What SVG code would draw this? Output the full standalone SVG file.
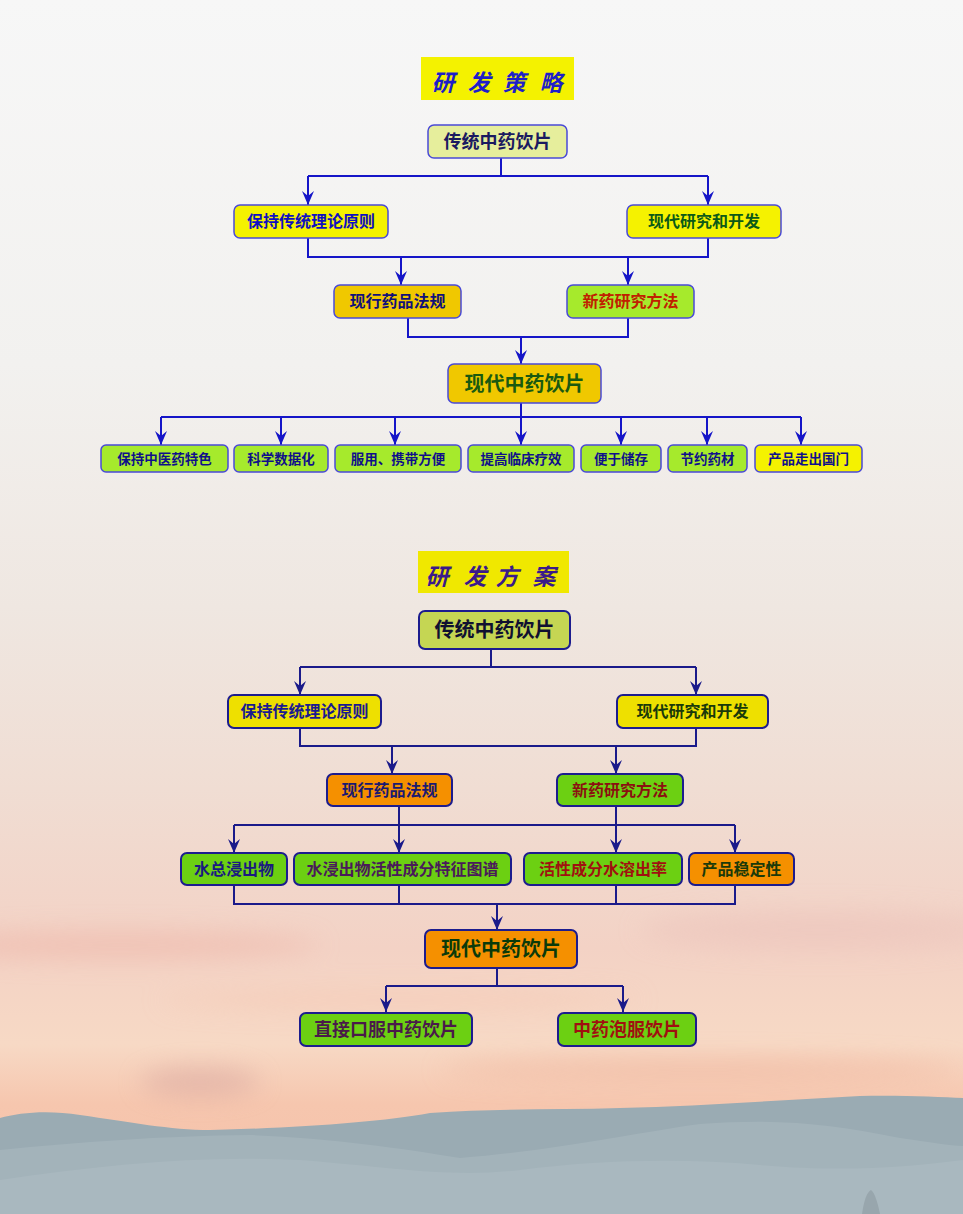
<svg xmlns="http://www.w3.org/2000/svg" width="963" height="1214" viewBox="0 0 963 1214">
<defs>
<linearGradient id="sky" x1="0" y1="0" x2="0" y2="1">
<stop offset="0" stop-color="#f7f7f7"/>
<stop offset="0.3" stop-color="#f2f1ef"/>
<stop offset="0.5" stop-color="#efe7e1"/>
<stop offset="0.65" stop-color="#f0ddd3"/>
<stop offset="0.78" stop-color="#f3d2c5"/>
<stop offset="0.86" stop-color="#f7d9c5"/>
<stop offset="0.91" stop-color="#f6c6ae"/>
<stop offset="1" stop-color="#f4c0a8"/>
</linearGradient>
<filter id="blur" x="-50%" y="-50%" width="200%" height="200%"><feGaussianBlur stdDeviation="12"/></filter>
<marker id="a1" viewBox="0 -7 14 14" refX="14" refY="0" markerWidth="14" markerHeight="14" orient="auto" markerUnits="userSpaceOnUse">
<path d="M0,-6 L14,0 L0,6 L5,0 Z" fill="#1515c8"/>
</marker>
<marker id="a2" viewBox="0 -7 14 14" refX="14" refY="0" markerWidth="14" markerHeight="14" orient="auto" markerUnits="userSpaceOnUse">
<path d="M0,-6 L14,0 L0,6 L5,0 Z" fill="#1a1a8a"/>
</marker>
</defs>
<style>
.t{font-family:"Noto Sans CJK SC","Noto Sans CJK JP",sans-serif;font-weight:bold;text-anchor:middle}
.b1{stroke:#4a4ad6;stroke-width:1.5}
.b2{stroke:#1c1c8e;stroke-width:2}
.c1{fill:none;stroke:#1515c8;stroke-width:2}
.c2{fill:none;stroke:#1a1a8a;stroke-width:2}
.title{font-family:"Noto Sans CJK SC",sans-serif;font-weight:bold;font-style:italic;text-anchor:middle}
</style>
<rect width="963" height="1214" fill="url(#sky)"/>
<g id="clouds" filter="url(#blur)" opacity="0.6">
<ellipse cx="120" cy="945" rx="200" ry="14" fill="#eeb8aa"/>
<ellipse cx="820" cy="930" rx="180" ry="20" fill="#ecc4bc"/>
<ellipse cx="200" cy="1082" rx="60" ry="14" fill="#d9a8a0"/>
<ellipse cx="700" cy="1070" rx="260" ry="12" fill="#f0b8a0"/>
<ellipse cx="400" cy="1000" rx="240" ry="10" fill="#f5c8b4"/>
</g>
<g id="mountains">
<path d="M0,1118 C20,1112 50,1110 80,1115 C130,1122 170,1130 210,1130 C300,1128 380,1122 430,1113 C500,1108 560,1110 620,1108 C700,1106 780,1100 860,1096 C900,1095 940,1097 963,1098 V1214 H0 Z" fill="#9aabb3"/>
<path d="M0,1150 C80,1142 160,1136 250,1135 C330,1138 400,1148 460,1158 C560,1150 640,1132 700,1124 C780,1118 830,1124 900,1138 C930,1142 950,1146 963,1146 V1214 H0 Z" fill="#a3b3ba"/>
<path d="M0,1180 C100,1165 200,1155 300,1160 C400,1168 450,1178 520,1170 C600,1160 680,1158 760,1165 C840,1172 900,1168 963,1160 V1214 H0 Z" fill="#a9b8bf"/>
<path d="M862,1214 C864,1200 867,1192 871,1190 C875,1193 878,1204 880,1214 Z" fill="#98a6ad"/>
</g>

<g id="title1">
<rect x="421" y="57" width="153" height="43" fill="#f4f200"/>
<text class="title" y="91" font-size="23" fill="#1e1ec8"><tspan x="443">研</tspan><tspan x="479">发</tspan><tspan x="514">策</tspan><tspan x="551">略</tspan></text>
</g>

<g id="connectors1">
<path class="c1" d="M501,158 V176 M308,176 H708"/>
<path class="c1" d="M308,176 V205" marker-end="url(#a1)"/>
<path class="c1" d="M708,176 V205" marker-end="url(#a1)"/>
<path class="c1" d="M308,238 V257 H708 V238"/>
<path class="c1" d="M401,257 V285" marker-end="url(#a1)"/>
<path class="c1" d="M628,257 V285" marker-end="url(#a1)"/>
<path class="c1" d="M408,318 V337 H628 V318"/>
<path class="c1" d="M521,337 V364" marker-end="url(#a1)"/>
<path class="c1" d="M521,403 V417 M161,417 H801"/>
<path class="c1" d="M161,417 V445" marker-end="url(#a1)"/>
<path class="c1" d="M281,417 V445" marker-end="url(#a1)"/>
<path class="c1" d="M395,417 V445" marker-end="url(#a1)"/>
<path class="c1" d="M521,417 V445" marker-end="url(#a1)"/>
<path class="c1" d="M621,417 V445" marker-end="url(#a1)"/>
<path class="c1" d="M707,417 V445" marker-end="url(#a1)"/>
<path class="c1" d="M801,417 V445" marker-end="url(#a1)"/>
</g>

<g id="n1_top">
<rect class="b1" x="428" y="125" width="139" height="33" rx="6" fill="#e6ee9c"/>
<text class="t" x="497.5" y="148" font-size="18" fill="#1a1a60">传统中药饮片</text>
</g>
<g id="n1_keep">
<rect class="b1" x="234" y="205" width="154" height="33" rx="6" fill="#f5f200"/>
<text class="t" x="311" y="227" font-size="16" fill="#1010c0">保持传统理论原则</text>
</g>
<g id="n1_modern">
<rect class="b1" x="627" y="205" width="154" height="33" rx="6" fill="#f5f200"/>
<text class="t" x="704" y="227" font-size="16" fill="#0c5a18">现代研究和开发</text>
</g>
<g id="n1_law">
<rect class="b1" x="334" y="285" width="127" height="33" rx="6" fill="#f0c800"/>
<text class="t" x="397.5" y="307" font-size="16" fill="#10107a">现行药品法规</text>
</g>
<g id="n1_method">
<rect class="b1" x="567" y="285" width="127" height="33" rx="6" fill="#a6ea2c"/>
<text class="t" x="630.5" y="307" font-size="16" fill="#c02000" font-weight="normal">新药研究方法</text>
</g>
<g id="n1_result">
<rect class="b1" x="448" y="364" width="153" height="39" rx="6" fill="#f0c800"/>
<text class="t" x="524.5" y="391" font-size="20" fill="#1a5a10">现代中药饮片</text>
</g>
<g id="s1">
<rect class="b1" x="101" y="445" width="127" height="27" rx="5" fill="#a6ea2c"/>
<text class="t" x="164.5" y="463.5" font-size="13.5" fill="#10108a">保持中医药特色</text>
</g>
<g id="s2">
<rect class="b1" x="234" y="445" width="94" height="27" rx="5" fill="#a6ea2c"/>
<text class="t" x="281" y="463.5" font-size="13.5" fill="#10108a">科学数据化</text>
</g>
<g id="s3">
<rect class="b1" x="335" y="445" width="126" height="27" rx="5" fill="#a6ea2c"/>
<text class="t" x="398" y="463.5" font-size="13.5" fill="#10108a">服用、携带方便</text>
</g>
<g id="s4">
<rect class="b1" x="468" y="445" width="106" height="27" rx="5" fill="#a6ea2c"/>
<text class="t" x="521" y="463.5" font-size="13.5" fill="#10108a">提高临床疗效</text>
</g>
<g id="s5">
<rect class="b1" x="581" y="445" width="80" height="27" rx="5" fill="#a6ea2c"/>
<text class="t" x="621" y="463.5" font-size="13.5" fill="#10108a">便于储存</text>
</g>
<g id="s6">
<rect class="b1" x="668" y="445" width="79" height="27" rx="5" fill="#a6ea2c"/>
<text class="t" x="707.5" y="463.5" font-size="13.5" fill="#10108a">节约药材</text>
</g>
<g id="s7">
<rect class="b1" x="755" y="445" width="107" height="27" rx="5" fill="#f5f200"/>
<text class="t" x="808.5" y="463.5" font-size="13.5" fill="#10108a">产品走出国门</text>
</g>

<g id="title2">
<rect x="418" y="551" width="151" height="42" fill="#f0e800"/>
<text class="title" y="585" font-size="23" fill="#3a1a8a"><tspan x="437">研</tspan><tspan x="475">发</tspan><tspan x="507">方</tspan><tspan x="544">案</tspan></text>
</g>

<g id="connectors2">
<path class="c2" d="M491,649 V667 M300,667 H696"/>
<path class="c2" d="M300,667 V695" marker-end="url(#a2)"/>
<path class="c2" d="M696,667 V695" marker-end="url(#a2)"/>
<path class="c2" d="M300,728 V746 H696 V728"/>
<path class="c2" d="M392,746 V774" marker-end="url(#a2)"/>
<path class="c2" d="M616,746 V774" marker-end="url(#a2)"/>
<path class="c2" d="M399,806 V825 M616,806 V825 M234,825 H735"/>
<path class="c2" d="M234,825 V853" marker-end="url(#a2)"/>
<path class="c2" d="M399,825 V853" marker-end="url(#a2)"/>
<path class="c2" d="M616,825 V853" marker-end="url(#a2)"/>
<path class="c2" d="M735,825 V853" marker-end="url(#a2)"/>
<path class="c2" d="M234,885 V904 H735 V885 M399,885 V904 M616,885 V904"/>
<path class="c2" d="M497,904 V930" marker-end="url(#a2)"/>
<path class="c2" d="M497,968 V986 M386,986 H623"/>
<path class="c2" d="M386,986 V1012" marker-end="url(#a2)"/>
<path class="c2" d="M623,986 V1012" marker-end="url(#a2)"/>
</g>

<g id="n2_top">
<rect class="b2" x="419" y="611" width="151" height="38" rx="6" fill="#c5d653"/>
<text class="t" x="494.5" y="637" font-size="20" fill="#101030">传统中药饮片</text>
</g>
<g id="n2_keep">
<rect class="b2" x="228" y="695" width="153" height="33" rx="6" fill="#eee000"/>
<text class="t" x="304.5" y="717" font-size="16" fill="#1a1a90">保持传统理论原则</text>
</g>
<g id="n2_modern">
<rect class="b2" x="617" y="695" width="151" height="33" rx="6" fill="#eee000"/>
<text class="t" x="692.5" y="717" font-size="16" fill="#1a3a0a">现代研究和开发</text>
</g>
<g id="n2_law">
<rect class="b2" x="327" y="774" width="125" height="32" rx="6" fill="#f59000"/>
<text class="t" x="389.5" y="796" font-size="16" fill="#1a1a70">现行药品法规</text>
</g>
<g id="n2_method">
<rect class="b2" x="557" y="774" width="126" height="32" rx="6" fill="#6cd012"/>
<text class="t" x="620" y="796" font-size="16" fill="#8a1010">新药研究方法</text>
</g>
<g id="n2_water">
<rect class="b2" x="181" y="853" width="106" height="32" rx="6" fill="#6cd012"/>
<text class="t" x="234" y="875" font-size="16" fill="#1a1a80">水总浸出物</text>
</g>
<g id="n2_finger">
<rect class="b2" x="294" y="853" width="217" height="32" rx="6" fill="#6cd012"/>
<text class="t" x="402.5" y="875" font-size="16" fill="#4a1a5a">水浸出物活性成分特征图谱</text>
</g>
<g id="n2_dissolve">
<rect class="b2" x="524" y="853" width="158" height="32" rx="6" fill="#6cd012"/>
<text class="t" x="603" y="875" font-size="16" fill="#a01010">活性成分水溶出率</text>
</g>
<g id="n2_stable">
<rect class="b2" x="689" y="853" width="105" height="32" rx="6" fill="#f59000"/>
<text class="t" x="741.5" y="875" font-size="16" fill="#1a3a0a">产品稳定性</text>
</g>
<g id="n2_result">
<rect class="b2" x="425" y="930" width="152" height="38" rx="6" fill="#f59000"/>
<text class="t" x="501" y="956" font-size="20" fill="#0a3a0a">现代中药饮片</text>
</g>
<g id="n2_oral">
<rect class="b2" x="300" y="1013" width="172" height="33" rx="6" fill="#6cd012"/>
<text class="t" x="386" y="1036" font-size="18" fill="#4a1a4a">直接口服中药饮片</text>
</g>
<g id="n2_brew">
<rect class="b2" x="558" y="1013" width="138" height="33" rx="6" fill="#6cd012"/>
<text class="t" x="627" y="1036" font-size="18" fill="#a01010">中药泡服饮片</text>
</g>
</svg>
